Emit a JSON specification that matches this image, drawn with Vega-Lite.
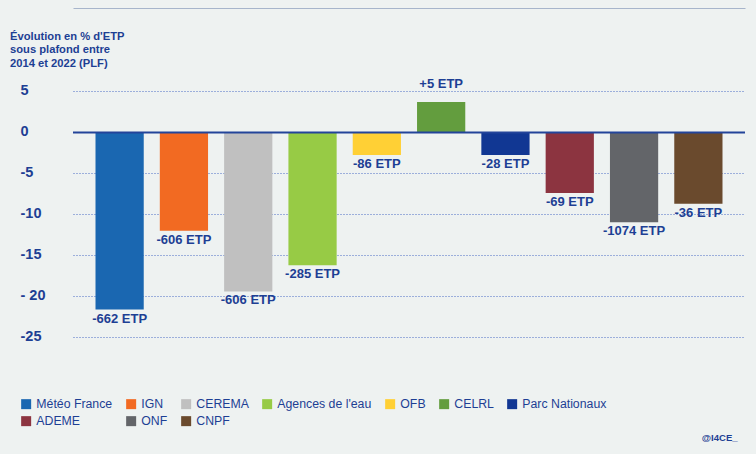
{
  "$schema": "https://vega.github.io/schema/vega-lite/v6.json",
  "width": 672,
  "height": 287,
  "autosize": {"type": "none"},
  "padding": {"left": 73, "top": 75, "right": 11, "bottom": 92},
  "background": "#eef2f1",
  "config": {"view": {"stroke": null}, "font": "Liberation Sans"},
  "title": {
    "text": ["Évolution en % d'ETP", "sous plafond entre", "2014 et 2022 (PLF)"],
    "anchor": "start",
    "frame": "group",
    "dx": -63,
    "offset": -61,
    "fontSize": 11.2,
    "fontWeight": "bold",
    "lineHeight": 13.3,
    "color": "#1d3f94"
  },
  "data": {
    "values": [
      {"org": "Météo France", "value": -21.6, "etp": "-662 ETP"},
      {"org": "IGN", "value": -12.0, "etp": "-606 ETP"},
      {"org": "CEREMA", "value": -19.4, "etp": "-606 ETP"},
      {"org": "Agences de l'eau", "value": -16.2, "etp": "-285 ETP"},
      {"org": "OFB", "value": -2.75, "etp": "-86 ETP"},
      {"org": "CELRL", "value": 3.7, "etp": "+5 ETP"},
      {"org": "Parc Nationaux", "value": -2.75, "etp": "-28 ETP"},
      {"org": "ADEME", "value": -7.4, "etp": "-69 ETP"},
      {"org": "ONF", "value": -10.95, "etp": "-1074 ETP"},
      {"org": "CNPF", "value": -8.7, "etp": "-36 ETP"}
    ]
  },
  "layer": [
    {
      "mark": {"type": "bar"},
      "encoding": {
        "x": {
          "field": "org", "type": "nominal", "sort": null,
          "scale": {"paddingInner": 0.25, "paddingOuter": 0.35},
          "axis": {
            "orient": "bottom", "labels": false, "ticks": false, "domain": false, "grid": false,
            "title": "@I4CE_", "titleAnchor": "end", "titleAlign": "right", "titleX": 664, "titleY": 75,
            "titleBaseline": "middle", "titleFontSize": 9.5, "titleFontWeight": "bold", "titleColor": "#1d3f94"
          }
        },
        "y": {
          "field": "value", "type": "quantitative",
          "scale": {"domain": [-28, 7], "nice": false, "zero": false},
          "axis": {
            "title": null,
            "values": [5, 0, -5, -10, -15, -20, -25],
            "labelExpr": "datum.value == -20 ? '- 20' : toString(datum.value)",
            "domain": false, "ticks": false, "tickSize": 0,
            "labelAlign": "left", "labelPadding": 53, "labelBaseline": "middle", "labelOffset": -1,
            "labelFontSize": 14.5, "labelFontWeight": "bold", "labelColor": "#1d3f94",
            "grid": true, "gridColor": "#4a6cc4", "gridDash": [1, 2], "gridWidth": 1
          }
        },
        "color": {
          "field": "org", "type": "nominal", "sort": null,
          "scale": {
            "domain": ["Météo France", "IGN", "CEREMA", "Agences de l'eau", "OFB", "CELRL", "Parc Nationaux", "ADEME", "ONF", "CNPF"],
            "range": ["#1a67b1", "#f26a22", "#c0c0c0", "#97cb45", "#ffd035", "#639d3e", "#113793", "#8c3440", "#636569", "#6a4a2d"]
          },
          "legend": {
            "title": null, "orient": "none", "legendX": -53, "legendY": 323,
            "direction": "horizontal", "columns": 7, "gridAlign": "none",
            "columnPadding": 12, "rowPadding": 4,
            "symbolType": "square", "symbolSize": 100, "symbolStrokeWidth": 0, "symbolOpacity": 1,
            "labelFontSize": 12.3, "labelColor": "#1d3f94", "labelOffset": 4, "labelLimit": 200
          }
        }
      }
    },
    {
      "data": {"values": [{"z": 0}]},
      "mark": {"type": "rule", "color": "#23449a", "strokeWidth": 2},
      "encoding": {"y": {"field": "z", "type": "quantitative"}}
    },
    {
      "transform": [{"filter": "datum.value < 0"}],
      "mark": {"type": "text", "baseline": "top", "dy": 3, "fontSize": 13, "fontWeight": "bold", "color": "#1d3f94"},
      "encoding": {
        "x": {
          "field": "org", "type": "nominal", "sort": null,
          "axis": {"orient": "top", "labels": false, "ticks": false, "grid": false, "title": null,
                   "domain": true, "domainColor": "#a7b5cb", "domainWidth": 1, "offset": 67}
        },
        "y": {"field": "value", "type": "quantitative"},
        "text": {"field": "etp"}
      }
    },
    {
      "transform": [{"filter": "datum.value > 0"}],
      "mark": {"type": "text", "baseline": "bottom", "dy": -11, "fontSize": 13, "fontWeight": "bold", "color": "#1d3f94"},
      "encoding": {
        "x": {"field": "org", "type": "nominal", "sort": null, "axis": null},
        "y": {"field": "value", "type": "quantitative"},
        "text": {"field": "etp"}
      }
    }
  ],
  "resolve": {"axis": {"x": "independent"}}
}
